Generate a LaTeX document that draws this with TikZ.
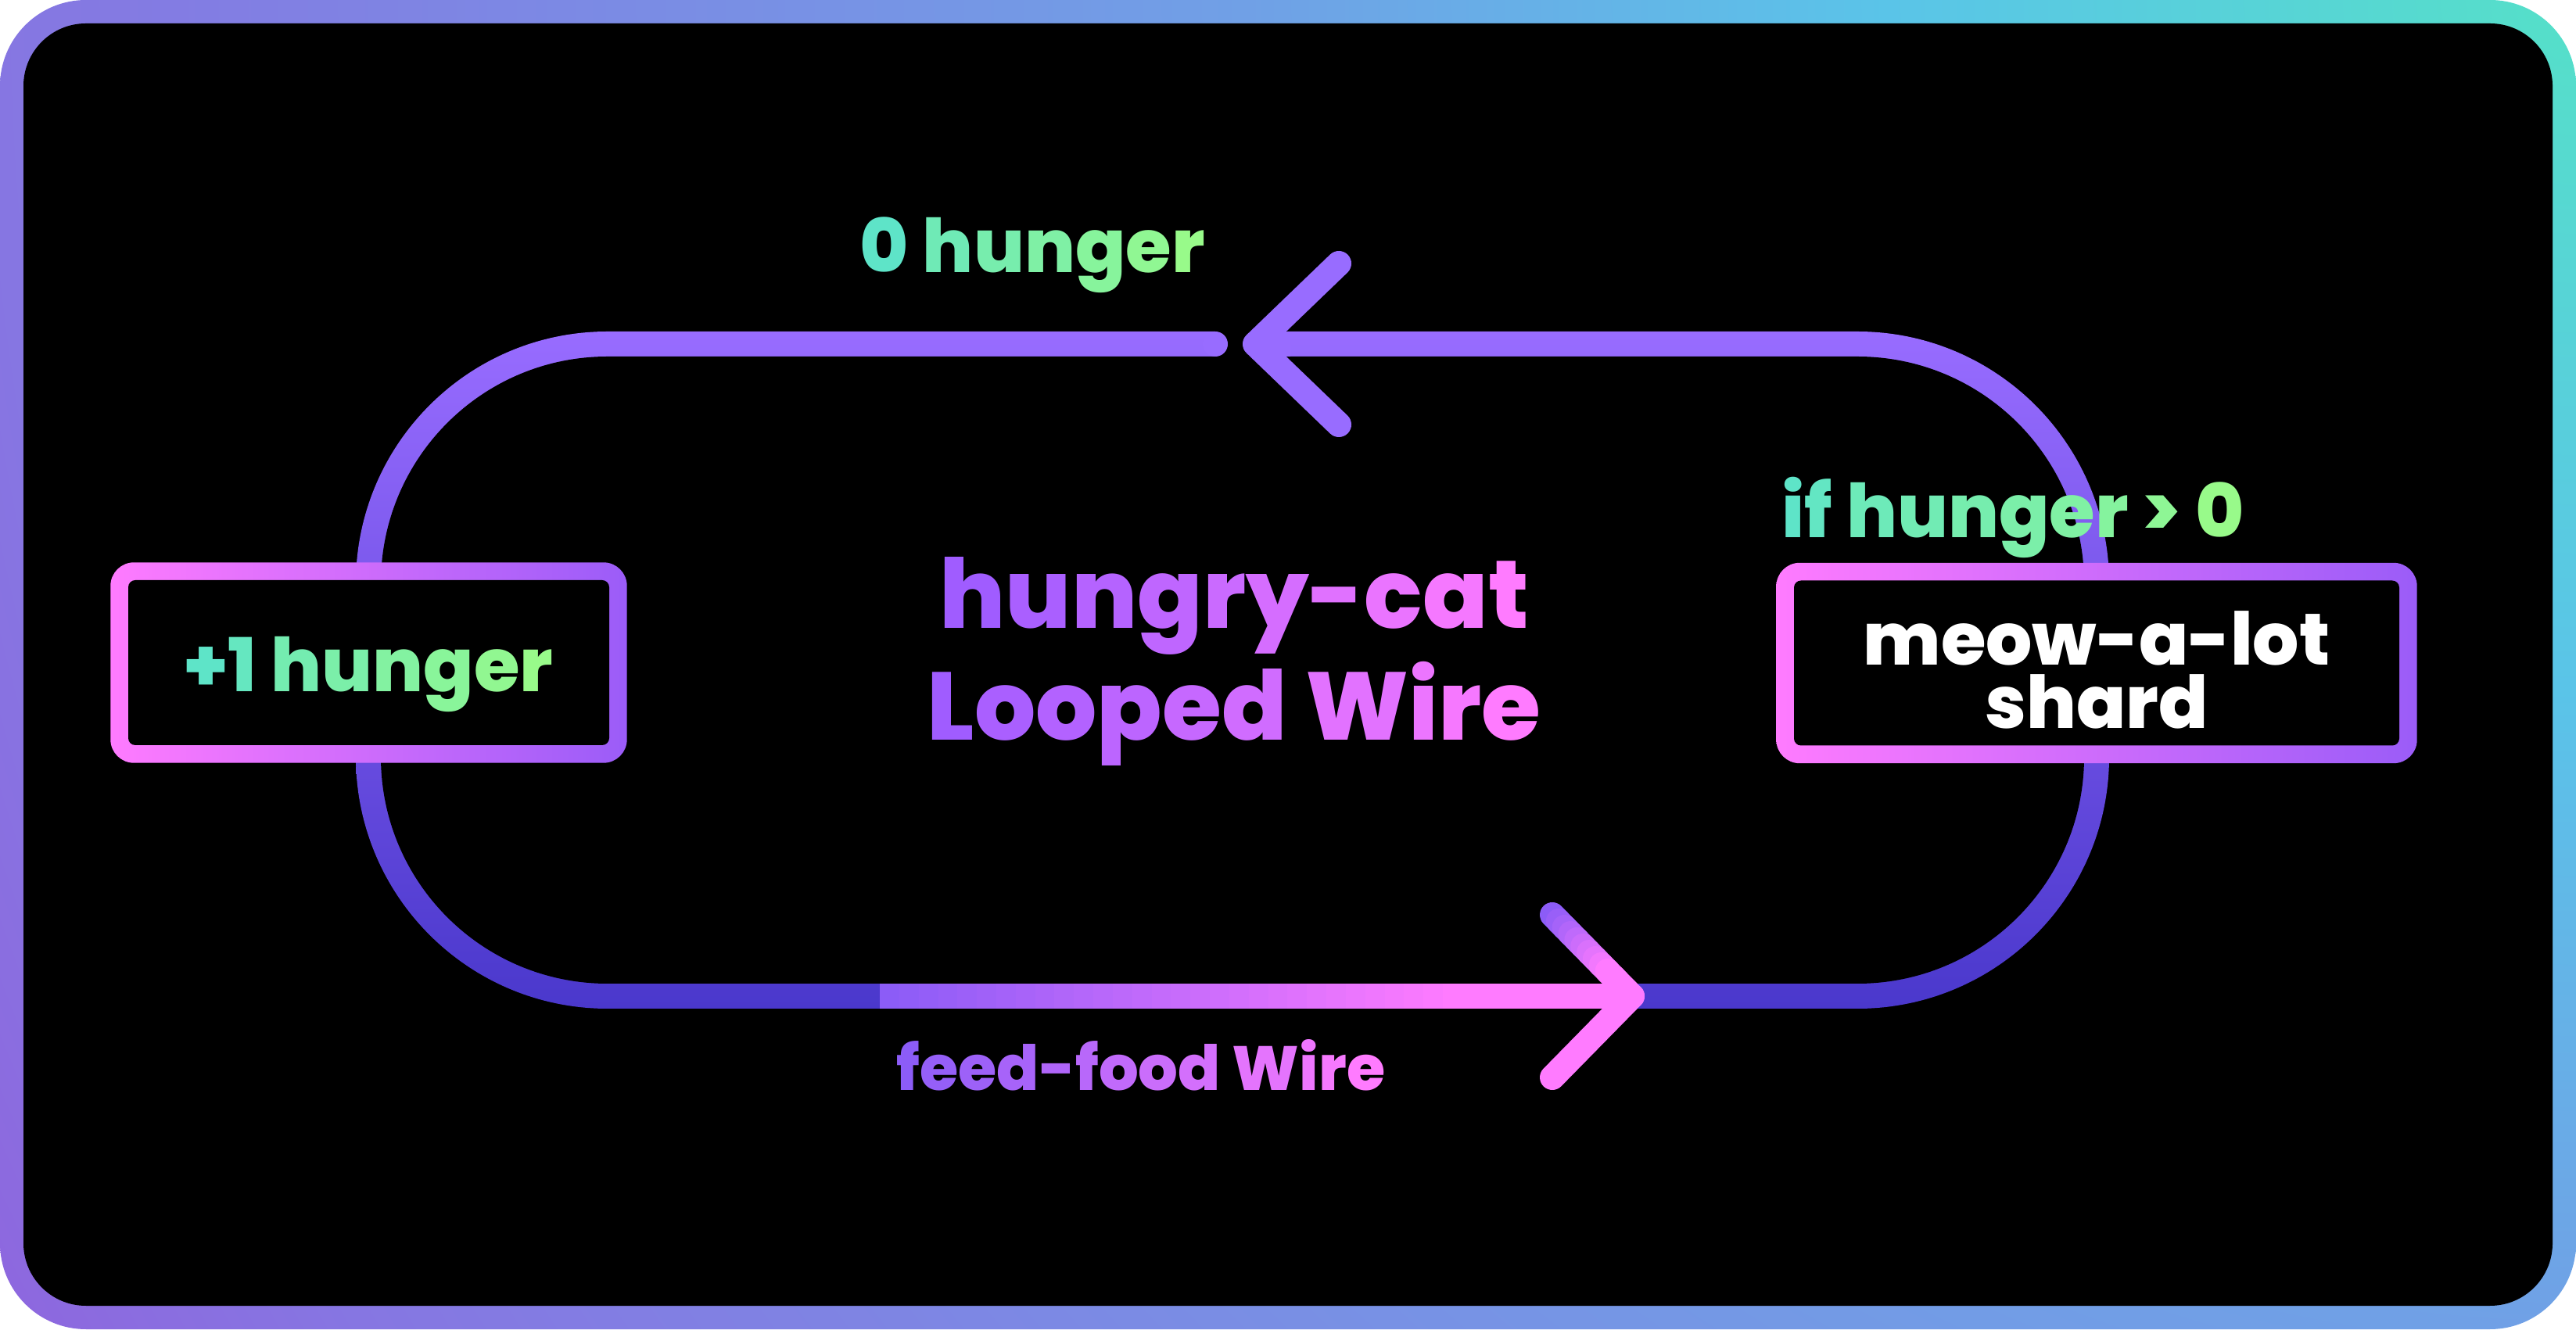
\documentclass[tikz,border=0pt]{standalone}
\usepackage{fontspec}
\IfFontExistsTF{Poppins ExtraBold}
  {\setmainfont{Poppins}[BoldFont={Poppins ExtraBold}]}
  {\setmainfont{Poppins}}
\usetikzlibrary{backgrounds,calc}

\definecolor{rimTeal}{RGB}{85,224,200}
\definecolor{rimCyan}{RGB}{90,196,232}
\definecolor{rimBlue}{RGB}{112,160,230}
\definecolor{rimLav}{RGB}{134,118,226}
\definecolor{rimPurple}{RGB}{142,102,222}
\definecolor{wireTop}{RGB}{152,108,255}
\definecolor{wireBot}{RGB}{74,56,204}
\definecolor{feedPurple}{RGB}{140,92,247}
\definecolor{feedPink}{RGB}{255,123,255}
\definecolor{boxPink}{RGB}{255,123,255}
\definecolor{boxPurple}{RGB}{155,92,248}
\definecolor{hungerTeal}{RGB}{94,228,200}
\definecolor{hungerLime}{RGB}{152,250,138}
\definecolor{titlePurple}{RGB}{160,92,255}
\definecolor{titlePink}{RGB}{255,123,255}

\pgfdeclareradialshading{rimglow}{\pgfpoint{0bp}{0bp}}{color(0bp)=(rimTeal); color(4.4bp)=(rimCyan); color(8.5bp)=(rimBlue); color(16.5bp)=(rimLav); color(18.6bp)=(rimPurple); color(50bp)=(rimPurple)}

% letters coloured one by one from #1 to #2 (~ for a space)
\makeatletter
\newcount\gradN \newcount\gradI \newcount\gradP
\newcommand\gradtext[3]{%
  \gradN=\z@ \@tfor\grad@ch:=#3\do{\advance\gradN\@ne}%
  \gradI=\z@
  \@tfor\grad@ch:=#3\do{%
    \gradP=\numexpr100*\gradI/(\gradN-1)\relax
    \edef\grad@col{#2!\the\gradP!#1}%
    \textcolor{\grad@col}{\grad@ch}%
    \advance\gradI\@ne}}
\makeatother

\tikzset{
  wire/.style={line width=0.32cm, line cap=round, line join=round},
  shardbox/.style={fill=black, rounded corners=0.09cm, minimum height=2.11cm, inner sep=0pt},
  hungertext/.style={font=\bfseries\fontsize{27pt}{32pt}\selectfont, inner sep=0pt},
  shardtext/.style={font=\bfseries\fontsize{26.5pt}{23.3pt}\selectfont, text=white, align=center},
  titletext/.style={font=\bfseries\fontsize{35pt}{40.7pt}\selectfont, align=center, inner sep=0pt},
  wiretext/.style={font=\bfseries\fontsize{22.7pt}{26pt}\selectfont, inner sep=0pt}
}

\begin{document}
\begin{tikzpicture}
  \useasboundingbox (0,0) rectangle (32.94,17);

  % shards sitting on the wire
  \node[shardbox, minimum width=6.15cm, hungertext, text height=0.75cm, text depth=0pt] (inc) at (4.715,8.525)
    {\gradtext{hungerTeal}{hungerLime}{+1~hunger}};
  \node[shardbox, minimum width=7.74cm, shardtext, text height=1.68cm, text depth=0pt] (shard) at (26.81,8.52)
    {meow-a-lot\\shard};

  % labels
  \node[hungertext, anchor=base] (reset) at (13.20,13.51)
    {\gradtext{hungerTeal}{hungerLime}{0~hunger}};
  \node[hungertext, anchor=base] (check) at (25.74,10.12)
    {\gradtext{hungerTeal}{hungerLime}{if~hunger~>~0}};
  \node[titletext] (title) at (15.78,8.54)
    {\gradtext{titlePurple}{titlePink}{hungry-cat}\\\gradtext{titlePurple}{titlePink}{Looped~Wire}};
  \node[wiretext, anchor=base] (feed) at (14.59,3.06)
    {\gradtext{feedPurple}{feedPink}{feed-food~Wire}};

  % the loop
  \coordinate (wireSW) at (4.71,4.26);
  \coordinate (wireNE) at (26.81,12.60);
  \coordinate (holdEnd) at (15.54,12.60);
  \coordinate (backTip) at (16.05,12.60);
  \coordinate (feedTail) at (11.25,4.26);
  \coordinate (feedTip) at (20.87,4.26);
  \coordinate (feedBarb) at (19.85,5.30);

  % arrow back to the start
  \fill[black] ($(holdEnd)+(0,-0.17)$) rectangle ($(backTip)+(0.2,0.17)$);
  \fill[wireTop] (holdEnd) circle (0.16);
  \draw[wire, wireTop, line cap=butt] (backTip) -- ++(0.45,0);
  \draw[wire, wireTop] ($(backTip)+(1.07,1.03)$) -- (backTip) -- ++(1.07,-1.03);

  % feed-food arrow, coloured in steps
  \foreach \i [evaluate=\i as \xa using 0.2483*\i, evaluate=\i as \xb using 0.2483*\i+0.3,
               evaluate=\i as \p using 100*\i/29] in {0,...,29}
    \draw[line width=0.32cm, feedPink!\p!feedPurple] ([xshift=\xa cm]feedTail) -- ([xshift=\xb cm]feedTail);
  \draw[line width=0.32cm, feedPink] ([xshift=7.45cm]feedTail) -- (feedTip);
  \draw[wire, feedPink] (feedTip) -- ++(-1.02,-1.04);
  \foreach \i [evaluate=\i as \fa using \i/13, evaluate=\i as \fb using (\i+1)/13,
               evaluate=\i as \p using 100*\i/9] in {0,...,9}
    \draw[wire, feedPink!\p!feedPurple] ($(feedBarb)!\fa!(feedTip)$) -- ($(feedBarb)!\fb!(feedTip)$);
  \draw[wire, feedPink] ($(feedBarb)!0.77!(feedTip)$) -- (feedTip);

  \begin{scope}[on background layer]
    % frame
    \begin{scope}
      \clip[rounded corners=1.1cm] (0,0) rectangle (32.94,17);
      \shade[shading=rimglow] (32.94,17) circle (50cm);
    \end{scope}
    \fill[black, rounded corners=0.8cm] (0.3,0.3) rectangle (32.64,16.7);
    % wire ring
    \shade[top color=wireTop, bottom color=wireBot, rounded corners=3.22cm]
      ($(wireSW)+(-0.16,-0.16)$) rectangle ($(wireNE)+(0.16,0.16)$);
    \fill[black, rounded corners=2.9cm]
      ($(wireSW)+(0.16,0.16)$) rectangle ($(wireNE)+(-0.16,-0.16)$);
    % shard rims
    \foreach \nm in {inc,shard}
      \shade[left color=boxPink, right color=boxPurple, rounded corners=0.3cm]
        ($(\nm.south west)+(-0.22,-0.22)$) rectangle ($(\nm.north east)+(0.22,0.22)$);
  \end{scope}
\end{tikzpicture}
\end{document}
